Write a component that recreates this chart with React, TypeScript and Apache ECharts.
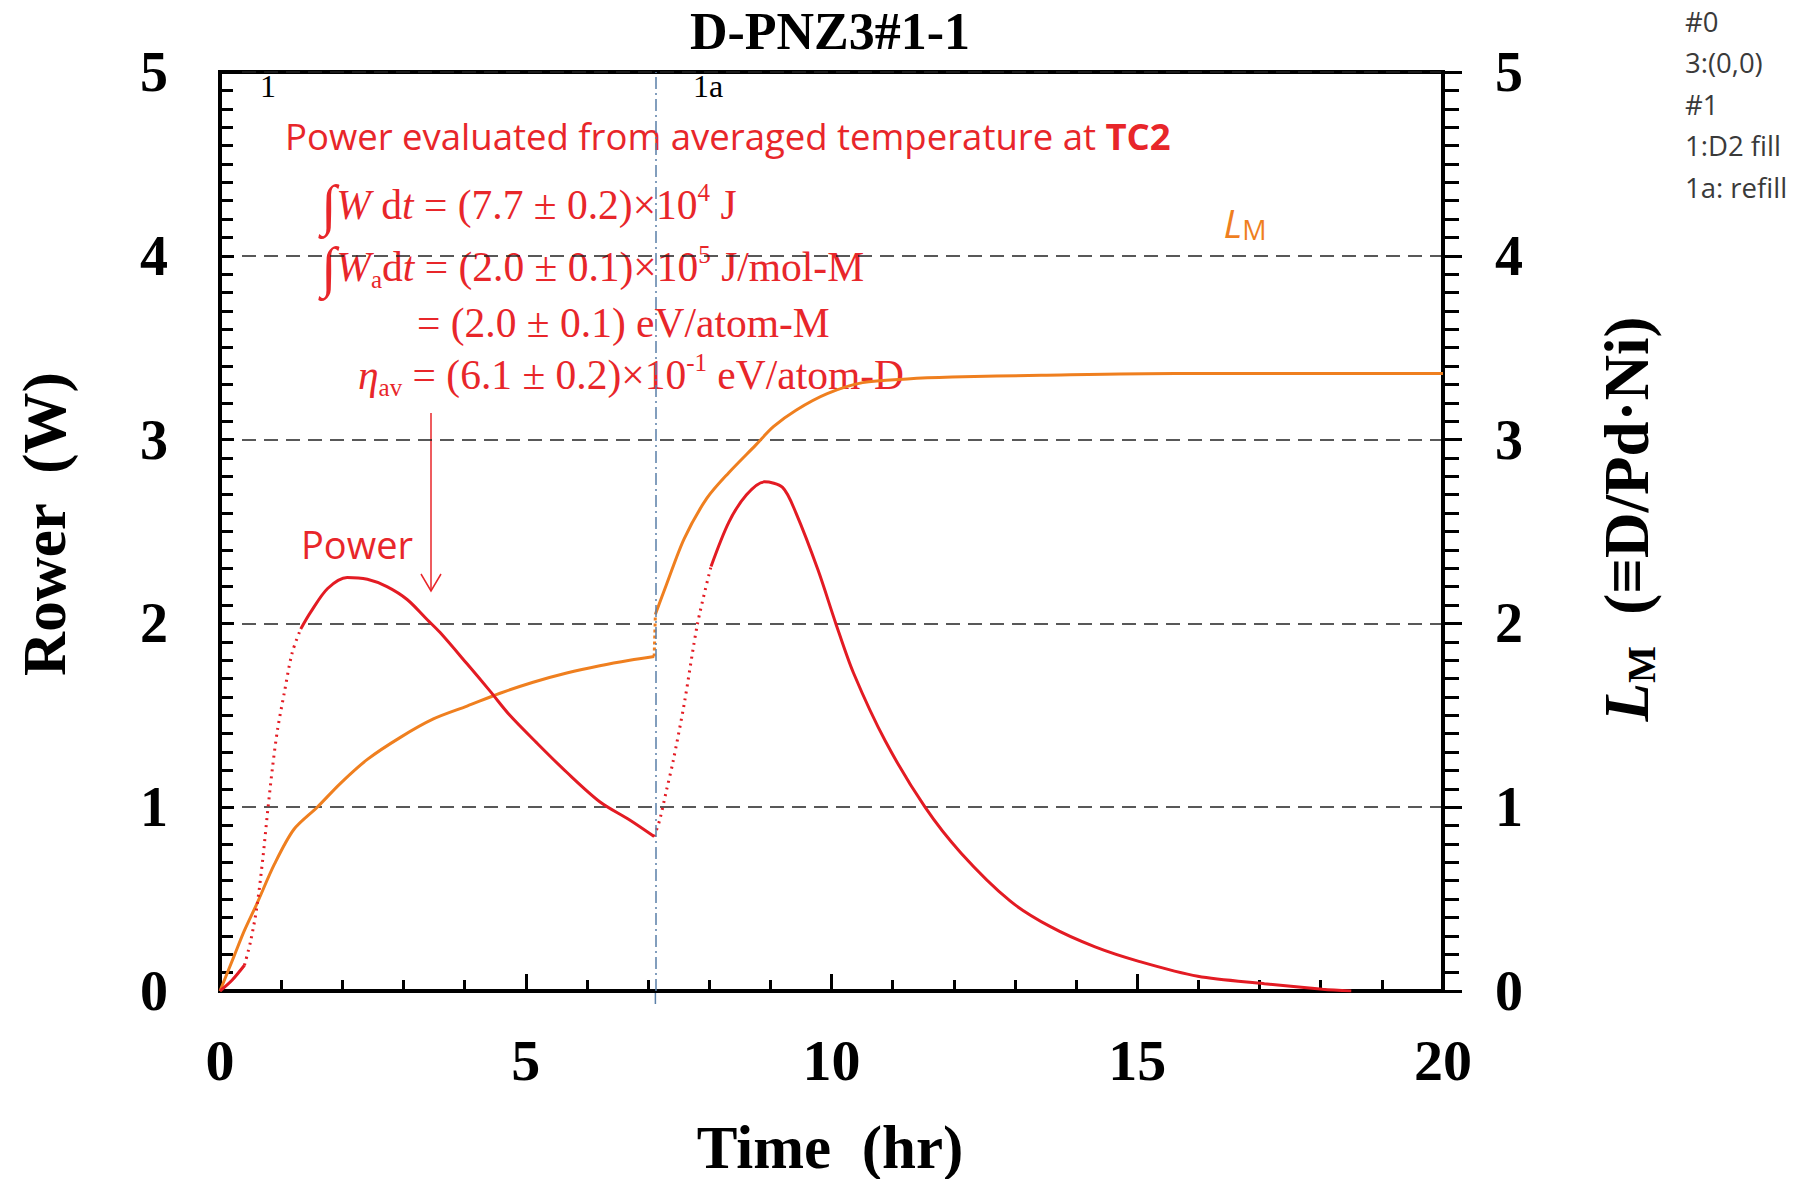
import React, { useEffect, useRef } from "react";
import * as echarts from "echarts";

// ---- data ----
const powerTime = [0, 0.2, 0.4, 0.5, 0.6, 0.7, 0.78, 0.86, 0.94, 1.05, 1.18, 1.32, 1.48, 1.76, 2.08, 2.41, 2.73, 3.06, 3.39, 3.6, 4.04, 4.42, 4.74, 5.18, 5.67, 6.21, 6.7, 7.1, 7.19, 7.3, 7.41, 7.59, 7.81, 8.03, 8.32, 8.61, 8.9, 9.2, 9.42, 9.78, 10.07, 10.36, 10.88, 11.53, 12.12, 12.92, 13.58, 14.31, 15.04, 15.99, 17.08, 18.03, 18.5];
const powerWatts = [0, 0.06, 0.14, 0.27, 0.45, 0.72, 0.98, 1.22, 1.42, 1.62, 1.84, 1.97, 2.06, 2.19, 2.25, 2.24, 2.2, 2.13, 2.02, 1.95, 1.78, 1.63, 1.5, 1.35, 1.19, 1.03, 0.93, 0.84, 0.93, 1.09, 1.25, 1.56, 2.0, 2.31, 2.55, 2.7, 2.77, 2.74, 2.6, 2.29, 2.0, 1.73, 1.36, 1.0, 0.75, 0.49, 0.35, 0.24, 0.16, 0.08, 0.04, 0.01, 0.0];
const powerDottedRanges = [[0.4, 1.32], [7.1, 8.03]];

const lmTime = [0, 0.23, 0.4, 0.61, 0.89, 1.21, 1.59, 1.97, 2.41, 2.95, 3.49, 4.04, 4.58, 5.12, 5.67, 6.21, 6.7, 7.1, 7.12, 7.3, 7.59, 7.96, 8.32, 8.76, 9.05, 9.42, 9.93, 10.51, 11.24, 11.97, 13.43, 15.62, 20];
const lmRatio = [0, 0.19, 0.33, 0.48, 0.69, 0.88, 1.0, 1.13, 1.26, 1.38, 1.48, 1.55, 1.62, 1.68, 1.73, 1.77, 1.8, 1.82, 2.05, 2.21, 2.46, 2.68, 2.82, 2.97, 3.07, 3.16, 3.25, 3.31, 3.33, 3.34, 3.35, 3.36, 3.36];
const lmDottedRanges = [[7.1, 7.12]];

const refillTime = 7.12;
const xMin = 0, xMax = 20, xStep = 5;
const yMin = 0, yMax = 5, yStep = 1;
const legendLines = ["#0", "3:(0,0)", "#1", "1:D2 fill", "1a: refill"];

const RED = "#e31b23";
const ORANGE = "#ef7f1f";
const TXT_RED = "#e8262a";
const SERIF = "Liberation Serif, Times New Roman, serif";
const SANS = "Open Sans, Noto Sans, sans-serif";

function pairs(ts: number[], vs: number[]) {
  return ts.map((t, i) => [t, vs[i]]);
}
function inside(t: number, ranges: number[][]) {
  return ranges.some(([a, b]) => t > a && t < b);
}
function solidData(ts: number[], vs: number[], ranges: number[][]) {
  const out: any[] = [];
  const p = pairs(ts, vs);
  for (let i = 0; i < p.length; i++) {
    const t = p[i][0];
    if (inside(t, ranges)) continue;
    if (out.length) {
      const prev = out[out.length - 1];
      if (prev[1] !== "-") {
        const mid = (prev[0] + t) / 2;
        if (ranges.some(([a, b]) => prev[0] >= a && t <= b)) out.push([mid, "-"]);
      }
    }
    out.push(p[i]);
  }
  return out;
}
function dottedData(ts: number[], vs: number[], ranges: number[][]) {
  const out: any[] = [];
  const p = pairs(ts, vs);
  ranges.forEach(([a, b], k) => {
    if (k > 0) out.push([(a + ranges[k - 1][1]) / 2, "-"]);
    p.filter(([t]) => t >= a && t <= b).forEach((q) => out.push(q));
  });
  return out;
}

export default function App() {
  const ref = useRef<HTMLDivElement>(null);
  useEffect(() => {
    if (!ref.current) return;
    const chart = echarts.init(ref.current, undefined, { renderer: "svg" });

    const axisLabel = { color: "#000", fontFamily: SERIF, fontWeight: "bold" as const, fontSize: 56 };
    const n = { fontFamily: SERIF, fontSize: 41.5, fill: TXT_RED, color: TXT_RED, lineHeight: 50 };
    const it = { ...n, fontStyle: "italic" };
    const integ = { ...n, fontSize: 56, lineHeight: 50 };
    const sup = { fontFamily: SERIF, fontSize: 25, color: TXT_RED, verticalAlign: "top", lineHeight: 28 };
    const sub = { fontFamily: SERIF, fontSize: 25, color: TXT_RED, verticalAlign: "bottom", lineHeight: 26 };
    const eqRich = { n, it, integ, sup, sub };

    const refX = 220 + (refillTime - xMin) / (xMax - xMin) * 1223;

    const graphic: any[] = [
      { type: "text", x: 830, y: 31, style: { text: "D-PNZ3#1-1", font: `bold 52px ${SERIF}`, fill: "#000", align: "center", verticalAlign: "middle" } },
      { type: "text", x: 830, y: 1147, style: { text: "Time  (hr)", font: `bold 61px ${SERIF}`, fill: "#000", align: "center", verticalAlign: "middle" } },
      { type: "text", x: 44, y: 524, rotation: Math.PI / 2, style: { text: "Rower  (W)", font: `bold 61px ${SERIF}`, fill: "#000", align: "center", verticalAlign: "middle" } },
      {
        type: "text", x: 1627, y: 519, rotation: Math.PI / 2,
        style: {
          text: "{l|L}{m|M}{r|  (≡D/Pd·Ni)}", align: "center", verticalAlign: "middle", fill: "#000",
          rich: {
            l: { fontFamily: SERIF, fontSize: 63, fontStyle: "italic", fontWeight: "bold", color: "#000", lineHeight: 68 },
            m: { fontFamily: SERIF, fontSize: 39, fontWeight: "bold", color: "#000", verticalAlign: "bottom", lineHeight: 38 },
            r: { fontFamily: SERIF, fontSize: 63, fontWeight: "bold", color: "#000", lineHeight: 68 },
          },
        },
      },
      { type: "line", shape: { x1: refX, y1: 991, x2: refX, y2: 1004 }, style: { stroke: "#5a7fa8", lineWidth: 1.5 } },
      { type: "text", x: 268, y: 86, style: { text: "1", font: `32px ${SERIF}`, fill: "#000", align: "center", verticalAlign: "middle" } },
      { type: "text", x: 708, y: 86, style: { text: "1a", font: `32px ${SERIF}`, fill: "#000", align: "center", verticalAlign: "middle" } },
      {
        type: "text", x: 285, y: 136,
        style: {
          text: "{a|Power evaluated from averaged temperature at }{b|TC2}", verticalAlign: "middle", align: "left", fill: TXT_RED,
          rich: {
            a: { fontFamily: SANS, fontSize: 36.5, color: TXT_RED },
            b: { fontFamily: SANS, fontSize: 36.5, fontWeight: "bold", color: TXT_RED },
          },
        },
      },
      { type: "text", x: 321, y: 205, style: { text: "{integ|∫}{it|W}{n| d}{it|t}{n| = (7.7 ± 0.2)×10}{sup|4}{n| J}", rich: eqRich, align: "left", verticalAlign: "middle", fill: TXT_RED } },
      { type: "text", x: 321, y: 267, style: { text: "{integ|∫}{it|W}{sub|a}{n|d}{it|t}{n| = (2.0 ± 0.1)×10}{sup|5}{n| J/mol-M}", rich: eqRich, align: "left", verticalAlign: "middle", fill: TXT_RED } },
      { type: "text", x: 417, y: 323, style: { text: "{n|= (2.0 ± 0.1) eV/atom-M}", rich: eqRich, align: "left", verticalAlign: "middle", fill: TXT_RED } },
      { type: "text", x: 358, y: 375, style: { text: "{it|η}{sub|av}{n| = (6.1 ± 0.2)×10}{sup|-1}{n| eV/atom-D}", rich: eqRich, align: "left", verticalAlign: "middle", fill: TXT_RED } },
      { type: "text", x: 357, y: 544, style: { text: "Power", font: `38px ${SANS}`, fill: TXT_RED, align: "center", verticalAlign: "middle" } },
      { type: "line", shape: { x1: 431, y1: 413, x2: 431, y2: 590 }, style: { stroke: TXT_RED, lineWidth: 1.5 } },
      { type: "polyline", shape: { points: [[421, 574], [431, 591], [441, 574]] }, style: { stroke: TXT_RED, lineWidth: 1.5, fill: "none" } },
      {
        type: "text", x: 1245, y: 222,
        style: {
          text: "{l|L}{m|M}", align: "center", verticalAlign: "middle", fill: ORANGE,
          rich: {
            l: { fontFamily: SANS, fontSize: 39, fontStyle: "italic", color: ORANGE, lineHeight: 42 },
            m: { fontFamily: SANS, fontSize: 27, color: ORANGE, verticalAlign: "bottom", lineHeight: 30 },
          },
        },
      },
      ...legendLines.map((s, i) => ({
        type: "text", x: 1685, y: 21 + i * 41.5,
        style: { text: s, font: `27.5px ${SANS}`, fill: "#3a3a3a", align: "left", verticalAlign: "middle" },
      })),
    ];

    chart.setOption({
      animation: false,
      backgroundColor: "#fff",
      grid: { left: 220, top: 72, width: 1223, height: 919, show: true, borderColor: "#000", borderWidth: 4, backgroundColor: "transparent" },
      xAxis: {
        type: "value", min: xMin, max: xMax, interval: xStep,
        axisLine: { show: true, onZero: false, lineStyle: { color: "#000", width: 4 } },
        axisTick: { show: true, inside: true, length: 17, lineStyle: { color: "#000", width: 3 } },
        minorTick: { show: true, splitNumber: 5, length: 11, lineStyle: { color: "#000", width: 3 } },
        axisLabel: { ...axisLabel, fontSize: 58, margin: 40 },
        splitLine: { show: false },
      },
      yAxis: [
        {
          type: "value", min: yMin, max: yMax, interval: yStep, position: "left",
          axisLine: { show: true, onZero: false, lineStyle: { color: "#000", width: 4 } },
          axisTick: { show: true, inside: true, length: 14, lineStyle: { color: "#000", width: 3 } },
          minorTick: { show: true, splitNumber: 10, length: 13, lineStyle: { color: "#000", width: 3 } },
          axisLabel: { ...axisLabel, margin: 52 },
          splitLine: { show: true, lineStyle: { color: "#222", type: [14, 8], width: 1.5 } },
        },
        {
          type: "value", min: yMin, max: yMax, interval: yStep, position: "right",
          axisLine: { show: true, onZero: false, lineStyle: { color: "#000", width: 4 } },
          axisTick: { show: true, inside: false, length: 19, lineStyle: { color: "#000", width: 3 } },
          minorTick: { show: true, splitNumber: 10, length: 16, lineStyle: { color: "#000", width: 3 } },
          axisLabel: { ...axisLabel, margin: 52 },
          splitLine: { show: false },
        },
      ],
      graphic,
      series: [
        {
          name: "LM", type: "line", yAxisIndex: 1, showSymbol: false, smooth: 0.3,
          lineStyle: { color: ORANGE, width: 3 }, itemStyle: { color: ORANGE },
          data: solidData(lmTime, lmRatio, lmDottedRanges),
          markLine: {
            symbol: "none", silent: true, label: { show: false },
            lineStyle: { color: "#5a7fa8", type: [12, 4, 2, 4], width: 1.5 },
            data: [{ xAxis: refillTime }],
          },
        },
        {
          name: "LM dotted", type: "line", yAxisIndex: 1, showSymbol: false,
          lineStyle: { color: ORANGE, width: 3, type: "dotted" },
          data: dottedData(lmTime, lmRatio, lmDottedRanges),
        },
        {
          name: "Power", type: "line", yAxisIndex: 0, showSymbol: false, smooth: 0.3,
          lineStyle: { color: RED, width: 3 }, itemStyle: { color: RED },
          data: solidData(powerTime, powerWatts, powerDottedRanges),
        },
        {
          name: "Power dotted", type: "line", yAxisIndex: 0, showSymbol: false, smooth: 0.3,
          lineStyle: { color: RED, width: 3, type: [2, 5] },
          data: dottedData(powerTime, powerWatts, powerDottedRanges),
        },
      ],
    });
    return () => chart.dispose();
  }, []);

  return <div ref={ref} style={{ position: "fixed", left: 0, top: 0, width: 1807, height: 1179, background: "#fff" }} />;
}
